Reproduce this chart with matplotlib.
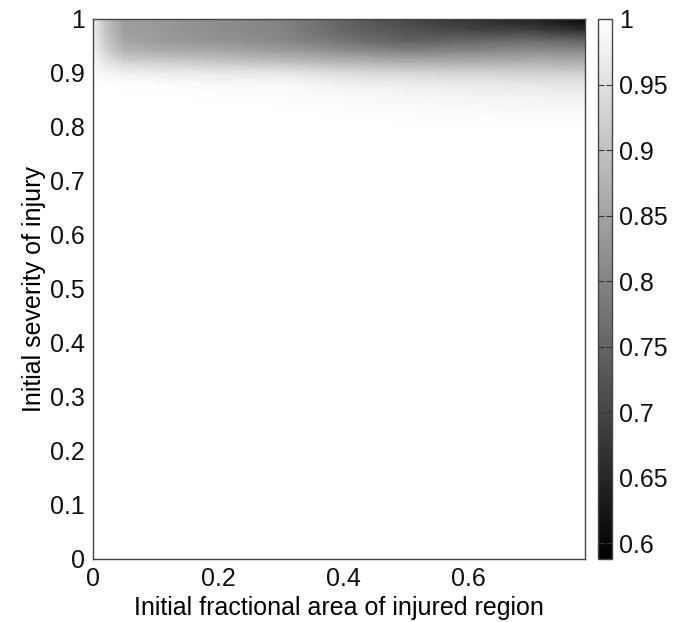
import matplotlib
matplotlib.use("Agg")
import matplotlib.pyplot as plt
import numpy as np

plt.rcParams["font.family"] = ["Liberation Sans", "DejaVu Sans"]

# ── Data (value of the surface at grid nodes) ────────────────────────────────
area = [0.0, 0.02, 0.05, 0.1, 0.2, 0.3, 0.4, 0.5, 0.6, 0.7, 0.786]
severity = [0.0, 0.80, 0.83, 0.86, 0.88, 0.90, 0.92, 0.94, 0.96, 0.98, 1.0]

row_000 = [1.0, 1.0, 1.0, 1.0, 1.0, 1.0, 1.0, 1.0, 1.0, 1.0, 1.0]
row_080 = [1.0, 1.0, 1.0, 1.0, 1.0, 1.0, 1.0, 1.0, 1.0, 1.0, 1.0]
row_083 = [1.0, 1.0, 1.0, 1.0, 1.0, 1.0, 0.998, 0.995, 0.993, 0.99, 0.99]
row_086 = [1.0, 1.0, 1.0, 1.0, 0.998, 0.995, 0.99, 0.985, 0.98, 0.978, 0.975]
row_088 = [1.0, 0.997, 0.995, 0.995, 0.99, 0.989, 0.975, 0.97, 0.965, 0.96, 0.955]
row_090 = [0.995, 0.985, 0.975, 0.97, 0.965, 0.96, 0.945, 0.935, 0.93, 0.925, 0.92]
row_092 = [0.99, 0.96, 0.93, 0.925, 0.91, 0.90, 0.885, 0.87, 0.87, 0.875, 0.87]
row_094 = [0.985, 0.93, 0.88, 0.87, 0.86, 0.845, 0.82, 0.80, 0.81, 0.82, 0.815]
row_096 = [0.98, 0.915, 0.855, 0.84, 0.825, 0.81, 0.775, 0.745, 0.755, 0.765, 0.75]
row_098 = [0.975, 0.905, 0.845, 0.837, 0.818, 0.802, 0.755, 0.72, 0.70, 0.69, 0.66]
row_100 = [0.97, 0.90, 0.84, 0.835, 0.815, 0.80, 0.745, 0.705, 0.67, 0.642, 0.595]

cbar_ticks = [0.6, 0.65, 0.7, 0.75, 0.8, 0.85, 0.9, 0.95, 1.0]
x_ticks = [0, 0.2, 0.4, 0.6]
y_ticks = [0, 0.1, 0.2, 0.3, 0.4, 0.5, 0.6, 0.7, 0.8, 0.9, 1]

VMIN, VMAX = 0.588, 1.0
FS = 18

values = np.array([row_000, row_080, row_083, row_086, row_088, row_090,
                   row_092, row_094, row_096, row_098, row_100])

# ── Figure ───────────────────────────────────────────────────────────────────
fig = plt.figure(figsize=(6.73, 6.22), dpi=100, facecolor="white")
ax = fig.add_axes([93 / 673, 63 / 622, 491.5 / 673, 540 / 622])
cax = fig.add_axes([598 / 673, 63 / 622, 14 / 673, 540 / 622])

X, Y = np.meshgrid(area, severity)
mesh = ax.pcolormesh(X, Y, values, shading="gouraud", cmap="gray",
                     vmin=VMIN, vmax=VMAX, rasterized=True)

ax.set_xlim(0, area[-1])
ax.set_ylim(0, 1)
ax.set_xticks(x_ticks)
ax.set_xticklabels(["0", "0.2", "0.4", "0.6"])
ax.set_yticks(y_ticks)
ax.set_yticklabels(["%g" % t for t in y_ticks])
ax.tick_params(length=0, labelsize=FS, pad=6, colors="#111111")
for sp in ax.spines.values():
    sp.set_color("#444444")
    sp.set_linewidth(1.0)

ax.set_xlabel("Initial fractional area of injured region", fontsize=FS, labelpad=3)
ax.set_ylabel("Initial severity of injury", fontsize=FS, labelpad=2.5)

cb = fig.colorbar(mesh, cax=cax)
cb.set_ticks(cbar_ticks)
cb.set_ticklabels(["%g" % t for t in cbar_ticks])
cax.tick_params(axis="y", direction="in", length=4, width=0.8, labelsize=FS,
                color="#333333", labelcolor="#111111", left=True, right=True, pad=5)
cb.outline.set_edgecolor("#444444")
cb.outline.set_linewidth(1.0)

fig.savefig("out.png", dpi=100, facecolor="white")
